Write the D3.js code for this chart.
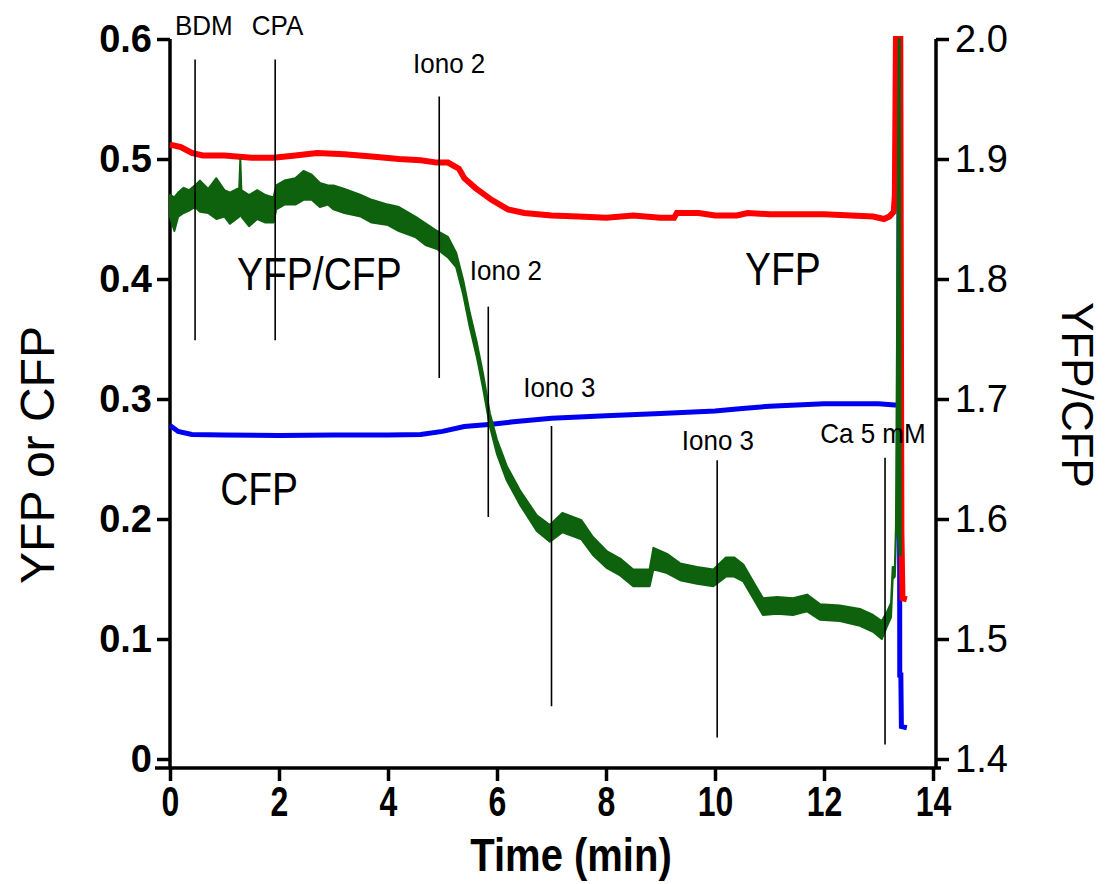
<!DOCTYPE html>
<html>
<head>
<meta charset="utf-8">
<script src="https://cdn.jsdelivr.net/npm/d3@7"></script>
<style>
  body { margin: 0; background: #fff; }
  text { font-family: "Liberation Sans", Arial, sans-serif; fill: #000; }
</style>
</head>
<body>
<div id="chart"></div>
<script>
// tick values
var timeTicks = [0, 2, 4, 6, 8, 10, 12, 14];
var leftTicks = [0, 0.1, 0.2, 0.3, 0.4, 0.5, 0.6];
var rightTicks = [1.4, 1.5, 1.6, 1.7, 1.8, 1.9, 2.0];

// YFP trace (red, left axis)
var yfpTime = [0, 0.2, 0.4, 0.6, 1.0, 1.5, 1.9, 2.3, 2.7, 3.2, 3.7, 4.2, 4.6, 4.9, 5.1, 5.3, 5.4, 5.6, 5.9, 6.2,
  6.5, 7.0, 7.5, 8.0, 8.5, 9.0, 9.25, 9.3, 9.7, 10.0, 10.4, 10.6, 11.0, 11.5, 12.0, 12.5, 12.9, 13.1, 13.2,
  13.28, 13.30, 13.32, 13.40, 13.42, 13.44, 13.52];
var yfpValue = [0.512, 0.510, 0.505, 0.503, 0.503, 0.501, 0.501, 0.503, 0.505, 0.504, 0.502, 0.500, 0.499, 0.497, 0.497,
  0.492, 0.484, 0.476, 0.466, 0.458, 0.455, 0.453, 0.452, 0.451, 0.453, 0.451, 0.451, 0.455, 0.455, 0.453,
  0.453, 0.455, 0.454, 0.454, 0.454, 0.453, 0.452, 0.450, 0.452, 0.456, 0.47, 0.6, 0.6, 0.19, 0.134, 0.133];

// CFP trace (blue, left axis)
var cfpTime = [0, 0.15, 0.4, 1.0, 2.0, 3.0, 4.0, 4.6, 5.0, 5.4, 5.9, 6.3, 7.0, 8.0, 9.0, 10.0, 10.5, 11.0, 12.0,
  13.0, 13.3, 13.37, 13.38, 13.39, 13.41, 13.42, 13.52];
var cfpValue = [0.278, 0.273, 0.2705, 0.270, 0.2695, 0.270, 0.270, 0.2705, 0.273, 0.277, 0.279, 0.281, 0.284, 0.286,
  0.288, 0.290, 0.292, 0.294, 0.296, 0.296, 0.295, 0.295, 0.578, 0.07, 0.07, 0.027, 0.026];

// YFP/CFP ratio (green, right axis) - low/high edge of the noisy trace
var ratioTime = [0, 0.08, 0.15, 0.25, 0.35, 0.46, 0.55, 0.7, 0.85, 1.0, 1.1, 1.27, 1.29, 1.31, 1.45, 1.6, 1.75,
  1.9, 1.95, 2.1, 2.3, 2.45, 2.6, 2.75, 2.9, 3.0, 3.2, 3.5, 3.7, 4.0, 4.2, 4.5, 4.7, 4.9, 5.1,
  5.25, 5.38, 5.5, 5.63, 5.74, 5.87, 6.0, 6.18, 6.42, 6.73, 6.97, 7.2, 7.55, 7.76, 8.02, 8.26, 8.5, 8.8, 8.87,
  9.12, 9.36, 9.67, 9.97, 10.2, 10.35, 10.52, 10.7, 10.88, 11.14, 11.43, 11.69, 11.93, 12.29, 12.66, 12.9,
  13.06, 13.15, 13.23, 13.26, 13.3, 13.32, 13.37, 13.39, 13.41];
var ratioLow = [1.852, 1.840, 1.852, 1.855, 1.857, 1.860, 1.856, 1.855, 1.850, 1.852, 1.846, 1.852, 1.856, 1.852,
  1.844, 1.850, 1.847, 1.847, 1.858, 1.862, 1.862, 1.866, 1.866, 1.860, 1.862, 1.858, 1.855, 1.852, 1.847, 1.845,
  1.840, 1.835, 1.828, 1.825, 1.818,
  1.810, 1.787, 1.760, 1.735, 1.710, 1.677, 1.654, 1.632, 1.612, 1.590, 1.581, 1.589, 1.583, 1.570, 1.559, 1.553,
  1.544, 1.544, 1.558, 1.555, 1.549, 1.546, 1.544, 1.552, 1.552, 1.548, 1.534, 1.520, 1.521, 1.520, 1.523, 1.516,
  1.515, 1.511, 1.506, 1.500, 1.510, 1.518, 1.550, 1.552, 1.585, 1.59, 1.57, 1.57];
var ratioHigh = [1.870, 1.868, 1.872, 1.876, 1.874, 1.878, 1.882, 1.875, 1.884, 1.874, 1.872, 1.876, 1.900, 1.874,
  1.870, 1.874, 1.870, 1.868, 1.878, 1.882, 1.884, 1.890, 1.887, 1.880, 1.878, 1.878, 1.875, 1.870, 1.866, 1.862,
  1.860, 1.852, 1.846, 1.840, 1.835,
  1.822, 1.799, 1.772, 1.747, 1.722, 1.688, 1.666, 1.644, 1.624, 1.603, 1.595, 1.605, 1.599, 1.585, 1.573, 1.567,
  1.558, 1.558, 1.576, 1.571, 1.563, 1.560, 1.558, 1.568, 1.568, 1.562, 1.548, 1.534, 1.535, 1.534, 1.537, 1.529,
  1.528, 1.525, 1.520, 1.515, 1.522, 1.530, 1.560, 1.560, 1.595, 2.0, 2.0, 1.58];

// drug additions (vertical marker lines, left axis units)
var eventNames = ["BDM", "CPA", "Iono 2", "Iono 2", "Iono 3", "Iono 3", "Ca 5 mM"];
var eventTime = [0.46, 1.93, 4.94, 5.84, 7.0, 10.04, 13.12];
var eventTop = [0.583, 0.583, 0.552, 0.377, 0.2775, 0.249, 0.251];
var eventBottom = [0.349, 0.349, 0.3175, 0.2017, 0.044, 0.018, 0.012];
var labelTime = [0.09, 1.5, 4.46, 5.5, 6.48, 9.39, 11.93];
var labelValue = [0.603, 0.603, 0.572, 0.399, 0.302, 0.2575, 0.263];

// trace names
var traceNames = ["YFP/CFP", "YFP", "CFP"];
var traceTime = [1.23, 10.55, 0.92];
var traceValue = [0.391, 0.395, 0.212];

var svgWidth = 1108;
var svgHeight = 884;

var margin = { top: 39, right: 175, bottom: 125, left: 170 };
var width = svgWidth - margin.left - margin.right;
var height = svgHeight - margin.top - margin.bottom;

var svg = d3.select("#chart")
  .append("svg")
  .attr("width", svgWidth)
  .attr("height", svgHeight);

var chartGroup = svg.append("g")
  .attr("transform", `translate(${margin.left}, ${margin.top})`);

var xScale = d3.scaleLinear().domain([0, 14]).range([0, width]);
var yLeft = d3.scaleLinear().domain([0, 0.6]).range([height, 0]);
var yRight = d3.scaleLinear().domain([1.4, 2.0]).range([height, 0]);

var axisY = height + 9;

// axis lines
chartGroup.append("line")
  .attr("x1", 0).attr("x2", 0).attr("y1", 0).attr("y2", axisY)
  .attr("stroke", "#000").attr("stroke-width", 3.5);
chartGroup.append("line")
  .attr("x1", width + 3).attr("x2", width + 3).attr("y1", 0).attr("y2", axisY)
  .attr("stroke", "#000").attr("stroke-width", 3.5);
chartGroup.append("line")
  .attr("x1", -15).attr("x2", width + 8).attr("y1", axisY).attr("y2", axisY)
  .attr("stroke", "#000").attr("stroke-width", 3.5);

// left axis
var leftAxis = chartGroup.append("g")
  .call(d3.axisLeft(yLeft).tickValues(leftTicks).tickSize(13).tickPadding(5)
    .tickFormat(d => d === 0 ? "0" : d3.format(".1f")(d)));
leftAxis.select(".domain").remove();
leftAxis.selectAll(".tick line").attr("stroke", "#000").attr("stroke-width", 3.5);
leftAxis.selectAll(".tick text")
  .attr("font-size", 38).attr("font-weight", "bold")
  .attr("font-family", "Liberation Sans, Arial, sans-serif");

// right axis
var rightAxis = chartGroup.append("g")
  .attr("transform", `translate(${width + 3}, 0)`)
  .call(d3.axisRight(yRight).tickValues(rightTicks).tickSize(13).tickPadding(6)
    .tickFormat(d3.format(".1f")));
rightAxis.select(".domain").remove();
rightAxis.selectAll(".tick line").attr("stroke", "#000").attr("stroke-width", 3.5);
rightAxis.selectAll(".tick text")
  .attr("font-size", 38)
  .attr("font-family", "Liberation Sans, Arial, sans-serif");

// bottom axis (labels are drawn taller than wide, like the original)
var bottomAxis = chartGroup.append("g")
  .attr("transform", `translate(0, ${axisY})`)
  .call(d3.axisBottom(xScale).tickValues(timeTicks).tickSize(13));
bottomAxis.select(".domain").remove();
bottomAxis.selectAll(".tick line").attr("stroke", "#000").attr("stroke-width", 3.5);
bottomAxis.selectAll(".tick text")
  .attr("font-size", 32).attr("font-weight", "bold")
  .attr("font-family", "Liberation Sans, Arial, sans-serif")
  .attr("y", 36).attr("dy", 0)
  .attr("transform", "scale(1, 1.33)");

// axis titles
svg.append("text")
  .attr("transform", "translate(571, 871) scale(1, 1.15)")
  .attr("text-anchor", "middle")
  .attr("font-size", 40)
  .attr("font-weight", "bold")
  .text("Time (min)");

svg.append("text")
  .attr("transform", "translate(54, 455) rotate(-90)")
  .attr("text-anchor", "middle")
  .attr("font-size", 48)
  .text("YFP or CFP");

svg.append("text")
  .attr("transform", "translate(1062, 395) rotate(90)")
  .attr("text-anchor", "middle")
  .attr("font-size", 44)
  .text("YFP/CFP");

// traces
var cfpData = cfpTime.map((t, i) => ({ t: t, v: cfpValue[i] }));
var yfpData = yfpTime.map((t, i) => ({ t: t, v: yfpValue[i] }));
var ratioData = ratioTime.map((t, i) => ({ t: t, lo: ratioLow[i], hi: ratioHigh[i] }));

var leftLine = d3.line()
  .x(d => xScale(d.t))
  .y(d => yLeft(d.v));

chartGroup.append("path")
  .datum(cfpData)
  .attr("d", leftLine)
  .attr("fill", "none")
  .attr("stroke", "#0000f0")
  .attr("stroke-width", 5);

chartGroup.append("path")
  .datum(yfpData)
  .attr("d", leftLine)
  .attr("fill", "none")
  .attr("stroke", "#ff0000")
  .attr("stroke-width", 6);

var ratioArea = d3.area()
  .x(d => xScale(d.t))
  .y0(d => yRight(d.lo))
  .y1(d => yRight(d.hi));

chartGroup.append("path")
  .datum(ratioData)
  .attr("d", ratioArea)
  .attr("fill", "#0e620e")
  .attr("stroke", "#0e620e")
  .attr("stroke-width", 2)
  .attr("stroke-linejoin", "round");

// event markers
chartGroup.selectAll(".event")
  .data(eventTime)
  .enter()
  .append("line")
  .attr("class", "event")
  .attr("x1", d => xScale(d))
  .attr("x2", d => xScale(d))
  .attr("y1", (d, i) => yLeft(eventTop[i]))
  .attr("y2", (d, i) => yLeft(eventBottom[i]))
  .attr("stroke", "#000")
  .attr("stroke-width", 1.6);

chartGroup.selectAll(".event-label")
  .data(eventNames)
  .enter()
  .append("text")
  .attr("class", "event-label")
  .attr("transform", (d, i) => `translate(${xScale(labelTime[i])}, ${yLeft(labelValue[i])}) scale(1, 1.08)`)
  .attr("font-size", 26)
  .text(d => d);

chartGroup.selectAll(".trace-label")
  .data(traceNames)
  .enter()
  .append("text")
  .attr("class", "trace-label")
  .attr("transform", (d, i) => `translate(${xScale(traceTime[i])}, ${yLeft(traceValue[i])}) scale(1, 1.2)`)
  .attr("font-size", 39)
  .text(d => d);
</script>
</body>
</html>
